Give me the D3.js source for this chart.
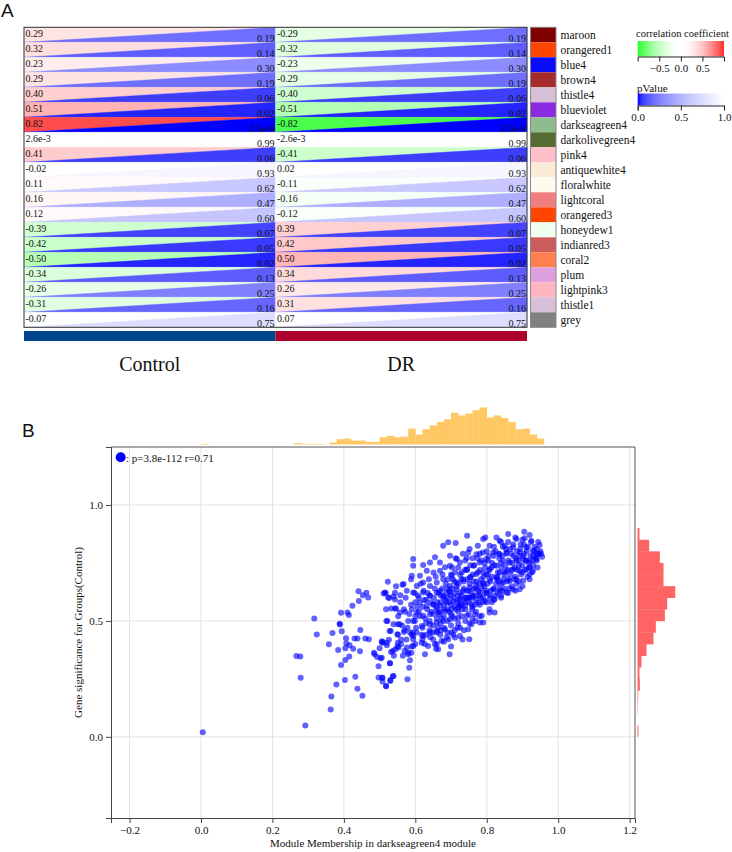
<!DOCTYPE html>
<html>
<head>
<meta charset="utf-8">
<script src="https://cdn.jsdelivr.net/npm/d3@7"></script>
<style>
  body { margin: 0; background: #fff; }
  svg text { font-family: "Liberation Serif", "Times New Roman", serif; fill: #111; }
</style>
</head>
<body>
<svg class="chart"></svg>
<script>

// ---- panel A data ----
let modules = ["maroon", "orangered1", "blue4", "brown4", "thistle4", "blueviolet",
  "darkseagreen4", "darkolivegreen4", "pink4", "antiquewhite4", "floralwhite", "lightcoral",
  "orangered3", "honeydew1", "indianred3", "coral2", "plum", "lightpink3", "thistle1", "grey"]

// colours as the picture shows them
let moduleColors = ["#800000", "#ff4500", "#0a0aff", "#a52a2a", "#d8bfd8", "#8a2be2",
  "#8fbc8f", "#556b2f", "#ffc0cb", "#faebd7", "#fffaf0", "#f08080",
  "#ff4500", "#f0fff0", "#cd5c5c", "#ff7f50", "#dda0dd", "#ffb6c1", "#d8bfd8", "#808080"]

let groups = ["Control", "DR"]
let groupColors = ["#00468b", "#ad002a"]

let controlCor = [0.29, 0.32, 0.23, 0.29, 0.40, 0.51, 0.82, 0.0026, 0.41, -0.02,
  0.11, 0.16, 0.12, -0.39, -0.42, -0.50, -0.34, -0.26, -0.31, -0.07]
let drCor = [-0.29, -0.32, -0.23, -0.29, -0.40, -0.51, -0.82, -0.0026, -0.41, 0.02,
  -0.11, -0.16, -0.12, 0.39, 0.42, 0.50, 0.34, 0.26, 0.31, 0.07]
let pValues = [0.19, 0.14, 0.30, 0.19, 0.06, 0.02, 2.5e-6, 0.99, 0.06, 0.93,
  0.62, 0.47, 0.60, 0.07, 0.05, 0.02, 0.13, 0.25, 0.16, 0.75]

let corTicks = [-0.5, 0, 0.5]
let pTicks = [0, 0.5, 1]

// ---- panel B data ----
let mmTicks = [-0.2, 0, 0.2, 0.4, 0.6, 0.8, 1.0, 1.2]
let gsTicks = [0, 0.5, 1.0]

// top histogram, bins of 0.02 (lower edges)
let mmBinLow = [0.00, 0.26, 0.28, 0.30, 0.32, 0.36, 0.38, 0.40, 0.42, 0.44, 0.46, 0.48, 0.50,
  0.52, 0.54, 0.56, 0.58, 0.60, 0.62, 0.64, 0.66, 0.68, 0.70, 0.72, 0.74, 0.76, 0.78,
  0.80, 0.82, 0.84, 0.86, 0.88, 0.90, 0.92, 0.94]
let mmCounts = [1, 2, 1, 1, 1, 3, 8, 9, 6, 6, 4, 4, 11,
  13, 11, 12, 24, 15, 23, 29, 34, 38, 48, 44, 47, 52, 56,
  41, 44, 40, 34, 23, 24, 15, 9]

// right histogram, bins of 0.05 (lower edges)
let gsBinLow = [0.00, 0.10, 0.15, 0.20, 0.25, 0.30, 0.35, 0.40, 0.45, 0.50, 0.55, 0.60,
  0.65, 0.70, 0.75, 0.80, 0.85]
let gsCounts = [3, 1, 2, 7, 6, 12, 27, 48, 55, 82, 89, 113, 78, 78, 67, 35, 6]

// genes: [module membership, gene significance]
let genes = [
  [0.005,0.02],[0.292,0.049],[0.363,0.118],[0.365,0.174],[0.379,0.226],[0.279,0.255],[0.267,0.349],
  [0.278,0.347],[0.317,0.51],[0.324,0.441],[0.358,0.399],[0.368,0.448],[0.384,0.375],[0.388,0.488],
  [0.389,0.484],[0.392,0.31],[0.392,0.535],[0.394,0.455],[0.403,0.245],[0.404,0.331],[0.404,0.382],
  [0.406,0.425],[0.407,0.403],[0.41,0.536],[0.414,0.526],[0.415,0.347],[0.416,0.395],[0.424,0.565],
  [0.426,0.38],[0.43,0.424],[0.432,0.259],[0.438,0.424],[0.438,0.207],[0.441,0.628],[0.442,0.586],
  [0.445,0.369],[0.446,0.461],[0.452,0.177],[0.453,0.611],[0.46,0.424],[0.463,0.621],[0.468,0.601],
  [0.47,0.421],[0.484,0.363],[0.486,0.356],[0.493,0.344],[0.497,0.304],[0.497,0.256],[0.5,0.382],
  [0.503,0.339],[0.506,0.412],[0.507,0.406],[0.508,0.255],[0.508,0.239],[0.515,0.622],[0.517,0.62],
  [0.519,0.5],[0.518,0.218],[0.52,0.395],[0.523,0.669],[0.524,0.601],[0.526,0.419],[0.528,0.457],
  [0.529,0.317],[0.53,0.245],[0.532,0.553],[0.532,0.366],[0.537,0.261],[0.543,0.621],[0.543,0.592],
  [0.544,0.378],[0.546,0.553],[0.551,0.406],[0.551,0.486],[0.551,0.44],
  [0.511,0.618],[0.527,0.599],[0.546,0.65],[0.564,0.656],[0.539,0.605],[0.558,0.611],[0.576,0.63],
  [0.594,0.622],[0.518,0.55],[0.543,0.553],[0.557,0.536],[0.571,0.539],[0.59,0.55],[0.522,0.5],
  [0.539,0.486],[0.556,0.486],[0.531,0.457],[0.55,0.442],[0.568,0.452],[0.594,0.5],[0.509,0.409],
  [0.52,0.406],[0.537,0.37],[0.553,0.385],[0.576,0.385],[0.594,0.421],[0.58,0.356],[0.589,0.363],
  [0.506,0.341],[0.529,0.317],[0.583,0.298],[0.507,0.255],[0.518,0.219],[0.539,0.262],[0.578,0.248],
  [0.53,0.241],[0.594,0.435],[0.585,0.45],
  [0.594,0.738],[0.59,0.695],[0.594,0.767],[0.622,0.741],[0.641,0.752],[0.655,0.774],[0.669,0.752],
  [0.678,0.824],[0.692,0.839],[0.713,0.836],[0.745,0.867],[0.752,0.81],[0.775,0.824],[0.79,0.853],
  [0.796,0.86],[0.808,0.824],[0.697,0.781],[0.697,0.738],[0.716,0.767],[0.725,0.752],[0.613,0.695],
  [0.632,0.716],[0.651,0.709],[0.669,0.716],[0.683,0.731],[0.702,0.695],[0.73,0.709],[0.744,0.723],
  [0.763,0.738],[0.78,0.752],[0.799,0.767],[0.744,0.772],[0.771,0.788],[0.789,0.795],[0.748,0.795],
  [0.588,0.68],[0.567,0.659],[0.604,0.651],[0.622,0.666],[0.641,0.651],[0.66,0.666],[0.678,0.68],
  [0.697,0.651],[0.716,0.666],[0.734,0.68],[0.753,0.687],[0.771,0.702],[0.79,0.709],[0.808,0.723],
  [0.827,0.738],[0.622,0.622],[0.641,0.608],[0.66,0.622],[0.678,0.608],[0.697,0.622],[0.716,0.637],
  [0.734,0.63],[0.753,0.644],[0.771,0.651],[0.79,0.666],[0.808,0.68],[0.827,0.687],[0.613,0.579],
  [0.632,0.565],[0.651,0.572],[0.669,0.565],[0.688,0.579],[0.706,0.586],[0.725,0.594],[0.744,0.601],
  [0.762,0.608],[0.781,0.622],[0.799,0.63],[0.818,0.637],[0.604,0.536],[0.622,0.522],[0.641,0.529],
  [0.664,0.536],[0.683,0.543],[0.701,0.55],[0.72,0.558],[0.739,0.565],[0.757,0.572],[0.776,0.579],
  [0.795,0.586],[0.808,0.55],[0.822,0.536],[0.599,0.5],[0.618,0.478],[0.641,0.486],[0.66,0.493],
  [0.678,0.5],[0.697,0.507],[0.72,0.514],[0.744,0.522],[0.767,0.529],[0.786,0.522],[0.79,0.493],
  [0.604,0.45],[0.622,0.435],[0.641,0.45],[0.66,0.457],[0.683,0.464],[0.701,0.45],[0.725,0.471],
  [0.748,0.464],[0.757,0.486],[0.618,0.406],[0.636,0.392],[0.655,0.399],[0.674,0.414],[0.692,0.421],
  [0.711,0.428],[0.725,0.435],[0.751,0.421],[0.594,0.392],[0.627,0.356],[0.696,0.356],[0.664,0.378],
  [0.58,0.363],
  [0.827,0.86],[0.836,0.846],[0.86,0.875],[0.85,0.824],[0.883,0.853],[0.905,0.885],[0.906,0.856],
  [0.925,0.846],[0.948,0.827],[0.955,0.777],[0.943,0.788],[0.929,0.803],[0.911,0.817],[0.892,0.795],
  [0.874,0.817],[0.855,0.795],[0.836,0.788],[0.818,0.795],[0.939,0.767],[0.92,0.759],[0.902,0.767],
  [0.883,0.759],[0.864,0.752],[0.846,0.759],[0.929,0.716],[0.911,0.723],[0.892,0.716],[0.874,0.723],
  [0.855,0.716],[0.836,0.709],[0.92,0.68],[0.902,0.673],[0.883,0.68],[0.864,0.673],[0.846,0.666],
  [0.874,0.637],[0.855,0.622],[0.836,0.63],[0.822,0.594],[0.892,0.637],[0.84,0.608],[0.808,0.536],
  [0.781,0.493],[0.725,0.565],
  [0.66,0.56],[0.67,0.58],[0.68,0.55],[0.69,0.6],[0.7,0.57],[0.71,0.62],[0.72,0.59],[0.73,0.61],
  [0.74,0.58],[0.75,0.63],[0.76,0.6],[0.77,0.64],[0.78,0.61],[0.79,0.66],[0.8,0.62],[0.81,0.67],
  [0.82,0.64],[0.83,0.69],[0.84,0.66],[0.85,0.7],[0.86,0.68],[0.87,0.72],[0.88,0.69],[0.89,0.74],
  [0.9,0.71],[0.91,0.76],[0.92,0.73],[0.93,0.78],
  [0.665,0.62],[0.675,0.64],[0.685,0.66],[0.695,0.63],[0.705,0.68],[0.715,0.65],[0.725,0.7],
  [0.735,0.67],[0.745,0.72],[0.755,0.69],[0.765,0.74],[0.775,0.71],[0.785,0.76],[0.795,0.73],
  [0.805,0.78],[0.815,0.75],[0.825,0.8],[0.835,0.77],[0.845,0.82],[0.855,0.79],[0.865,0.81],
  [0.875,0.78],[0.885,0.8],[0.895,0.83],[0.905,0.79],[0.915,0.82],
  [0.64,0.5],[0.65,0.53],[0.66,0.51],[0.67,0.54],[0.68,0.52],[0.69,0.55],[0.7,0.53],[0.71,0.56],
  [0.72,0.54],[0.73,0.57],[0.74,0.55],[0.75,0.58],[0.76,0.56],[0.77,0.59],[0.78,0.57],[0.79,0.6],
  [0.8,0.58],[0.81,0.61],[0.82,0.59],[0.83,0.62],[0.84,0.6],[0.85,0.64],[0.86,0.62],[0.87,0.65],
  [0.88,0.63],[0.89,0.67],[0.9,0.65],
  [0.62,0.47],[0.63,0.49],[0.64,0.46],[0.65,0.48],[0.66,0.45],[0.67,0.49],[0.68,0.47],[0.69,0.5],
  [0.7,0.48],[0.71,0.51],[0.72,0.49],[0.73,0.52],[0.74,0.5],[0.75,0.53],[0.76,0.51],[0.77,0.54],
  [0.78,0.52],
  [0.7,0.7],[0.72,0.73],[0.74,0.76],[0.76,0.77],[0.78,0.79],[0.8,0.8],[0.82,0.82],[0.84,0.84],
  [0.86,0.84],[0.88,0.86],[0.9,0.85],[0.92,0.87],[0.94,0.81],[0.95,0.8],[0.93,0.74],[0.94,0.76],
  [0.92,0.7],
  [0.6,0.58],[0.61,0.6],[0.62,0.56],[0.63,0.59],[0.64,0.61],[0.65,0.57],[0.6,0.52],[0.61,0.54],
  [0.58,0.5],[0.57,0.46],[0.59,0.44],[0.56,0.42],[0.55,0.39],[0.57,0.37],[0.54,0.35],[0.62,0.42],
  [0.6,0.4],[0.63,0.44],[0.65,0.42],[0.67,0.44],[0.69,0.45],[0.71,0.46],[0.66,0.4],[0.68,0.41],
  [0.602,0.47],[0.607,0.61],[0.613,0.52],[0.618,0.44],[0.623,0.63],[0.628,0.51],[0.633,0.55],
  [0.638,0.68],[0.643,0.58],[0.648,0.45],[0.605,0.56],[0.615,0.66],[0.625,0.59],[0.635,0.62],
  [0.645,0.54],
  [0.652,0.6],[0.657,0.69],[0.661,0.58],[0.666,0.53],[0.671,0.61],[0.676,0.7],[0.681,0.57],
  [0.686,0.62],[0.691,0.68],[0.696,0.58],[0.654,0.64],[0.664,0.47],[0.674,0.51],[0.684,0.59],
  [0.694,0.54],[0.659,0.55],[0.669,0.63],[0.679,0.6],[0.689,0.64],[0.699,0.61],
  [0.702,0.64],[0.707,0.6],[0.711,0.71],[0.716,0.58],[0.721,0.66],[0.726,0.62],[0.731,0.55],
  [0.736,0.64],[0.741,0.6],[0.746,0.68],[0.704,0.52],[0.714,0.55],[0.724,0.57],[0.734,0.59],
  [0.744,0.63],[0.709,0.67],[0.719,0.61],[0.729,0.68],[0.739,0.72],[0.749,0.6],[0.703,0.73],
  [0.713,0.77],[0.733,0.79],
  [0.752,0.66],[0.757,0.62],[0.761,0.7],[0.766,0.57],[0.771,0.67],[0.776,0.63],[0.781,0.72],
  [0.786,0.64],[0.791,0.69],[0.796,0.62],[0.754,0.74],[0.764,0.64],[0.774,0.77],[0.784,0.68],
  [0.794,0.75],[0.759,0.55],[0.769,0.61],[0.779,0.66],[0.789,0.58],[0.799,0.7],[0.753,0.6],
  [0.763,0.67],[0.783,0.6],[0.793,0.65],
  [0.802,0.66],[0.807,0.72],[0.811,0.63],[0.816,0.69],[0.821,0.74],[0.826,0.66],[0.831,0.71],
  [0.836,0.64],[0.841,0.73],[0.846,0.68],[0.804,0.76],[0.814,0.58],[0.824,0.61],[0.834,0.79],
  [0.844,0.63],[0.809,0.6],[0.819,0.78],[0.829,0.68],[0.839,0.75],[0.849,0.71],[0.803,0.7],
  [0.813,0.73],[0.833,0.67],[0.843,0.78],
  [0.852,0.74],[0.857,0.67],[0.861,0.76],[0.866,0.7],[0.871,0.75],[0.876,0.68],[0.881,0.77],
  [0.886,0.72],[0.891,0.78],[0.896,0.7],[0.854,0.81],[0.864,0.64],[0.874,0.83],[0.884,0.66],
  [0.894,0.81],[0.859,0.72],[0.869,0.79],[0.879,0.73],[0.889,0.76],[0.899,0.74],
  [0.902,0.78],[0.907,0.72],[0.912,0.8],[0.917,0.75],[0.922,0.78],[0.927,0.71],[0.932,0.8],
  [0.937,0.77],[0.942,0.73],[0.947,0.79],[0.904,0.83],[0.914,0.69],[0.924,0.84],[0.934,0.82],
  [0.944,0.84],[0.952,0.79],[0.909,0.76],[0.919,0.73],[0.929,0.76],[0.939,0.79],
  [0.552,0.52],[0.558,0.58],[0.563,0.48],[0.568,0.55],[0.573,0.6],[0.578,0.47],[0.583,0.53],
  [0.588,0.57],[0.593,0.45],[0.598,0.62],[0.56,0.4],[0.575,0.42],[0.59,0.39],[0.565,0.35],
  [0.585,0.33],
  [0.626,0.4],[0.642,0.43],[0.658,0.38],[0.672,0.46],[0.688,0.43],[0.706,0.44],[0.718,0.47],
  [0.736,0.46],[0.752,0.49],[0.768,0.5],[0.732,0.42],[0.7,0.39]
]

let statText = ": p=3.8e-112 r=0.71"

let svg = d3.select(".chart")
    .attr("width", 732)
    .attr("height", 852)

function fmt(v) {
  if (v !== 0 && Math.abs(v) < 0.005) return v.toExponential(1)
  return v.toFixed(2)
}

// ================= panel A =================
svg.append("text")
    .attr("x", 1).attr("y", 17)
    .style("font-family", "Liberation Sans, Arial, sans-serif")
    .style("font-size", "19px")
    .text("A")

let gx = d3.scaleBand().domain(groups).range([24, 527])
let gy = d3.scaleBand().domain(modules).range([27.3, 327.3])

let corColor = d3.scaleDivergingPow()
    .exponent(1.8)
    .domain([-1, 0, 1])
    .interpolator(function(t) {
      return t < 0.5 ? d3.interpolateRgb("#00ff00", "#ffffff")(t * 2)
                     : d3.interpolateRgb("#ffffff", "#ff0000")((t - 0.5) * 2)
    })

let pColor = d3.scaleSqrt().domain([0, 1]).range(["#0000ff", "#ffffff"])

let cells = []
modules.forEach(function(m, i) {
  cells.push({ module: m, group: "Control", r: controlCor[i], p: pValues[i] })
  cells.push({ module: m, group: "DR", r: drCor[i], p: pValues[i] })
})

let cell = svg.append("g").selectAll("g")
    .data(cells)
  .enter().append("g")

// upper-left triangle: correlation, lower-right: p value
cell.append("path")
    .attr("d", function(d) {
      let x0 = gx(d.group), x1 = x0 + gx.bandwidth()
      let y0 = gy(d.module), y1 = y0 + gy.bandwidth()
      return "M" + x0 + "," + y0 + "L" + x1 + "," + y0 + "L" + x0 + "," + y1 + "Z"
    })
    .attr("fill", function(d) { return corColor(d.r) })
    .attr("stroke", function(d) { return corColor(d.r) })
    .attr("stroke-width", 0.4)

cell.append("path")
    .attr("d", function(d) {
      let x0 = gx(d.group), x1 = x0 + gx.bandwidth()
      let y0 = gy(d.module), y1 = y0 + gy.bandwidth()
      return "M" + x0 + "," + y1 + "L" + x1 + "," + y0 + "L" + x1 + "," + y1 + "Z"
    })
    .attr("fill", function(d) { return pColor(d.p) })
    .attr("stroke", function(d) { return pColor(d.p) })
    .attr("stroke-width", 0.4)

cell.append("text")
    .attr("x", function(d) { return gx(d.group) + 1.5 })
    .attr("y", function(d) { return gy(d.module) + 9.5 })
    .style("font-size", "10px")
    .text(function(d) { return fmt(d.r) })

cell.append("text")
    .attr("x", function(d) { return gx(d.group) + gx.bandwidth() - 1 })
    .attr("y", function(d) { return gy(d.module) + gy.bandwidth() - 0.5 })
    .attr("text-anchor", "end")
    .style("font-size", "10px")
    .text(function(d) { return fmt(d.p) })

svg.append("rect")
    .attr("x", 24).attr("y", 27.3)
    .attr("width", 503).attr("height", 300)
    .attr("fill", "none")
    .attr("stroke", "#333")

// module colour column
let modG = svg.append("g")
modG.selectAll("rect")
    .data(modules)
  .enter().append("rect")
    .attr("x", 530.5)
    .attr("y", function(d) { return gy(d) })
    .attr("width", 25.5)
    .attr("height", gy.bandwidth())
    .attr("fill", function(d, i) { return moduleColors[i] })

modG.append("rect")
    .attr("x", 530.5).attr("y", 27.3)
    .attr("width", 25.5).attr("height", 300)
    .attr("fill", "none")
    .attr("stroke", "#888")

modG.selectAll("text")
    .data(modules)
  .enter().append("text")
    .attr("x", 560.5)
    .attr("y", function(d) { return gy(d) + gy.bandwidth() / 2 + 4 })
    .style("font-size", "11.5px")
    .text(function(d) { return d })

// group bar + labels
svg.append("g").selectAll("rect")
    .data(groups)
  .enter().append("rect")
    .attr("x", function(d) { return gx(d) })
    .attr("y", 331)
    .attr("width", gx.bandwidth())
    .attr("height", 10)
    .attr("fill", function(d, i) { return groupColors[i] })

svg.append("g").selectAll("text")
    .data(groups)
  .enter().append("text")
    .attr("x", function(d) { return gx(d) + gx.bandwidth() / 2 })
    .attr("y", 371)
    .attr("text-anchor", "middle")
    .style("font-size", "20px")
    .text(function(d) { return d })

// colour legends
let legX = d3.scaleLinear().domain([-1, 1]).range([637.7, 724])
let legP = d3.scaleLinear().domain([0, 1]).range([637.7, 724])

let defs = svg.append("defs")
let gradCor = defs.append("linearGradient").attr("id", "gradCor")
gradCor.selectAll("stop")
    .data(d3.range(0, 1.0001, 0.05))
  .enter().append("stop")
    .attr("offset", function(t) { return t })
    .attr("stop-color", function(t) { return corColor(-0.9 + t * 1.8) })

let gradP = defs.append("linearGradient").attr("id", "gradP")
gradP.selectAll("stop")
    .data(d3.range(0, 1.0001, 0.05))
  .enter().append("stop")
    .attr("offset", function(t) { return t })
    .attr("stop-color", function(t) { return pColor(t) })

svg.append("text")
    .attr("x", 636).attr("y", 37)
    .style("font-size", "10.5px")
    .text("correlation coefficient")

svg.append("rect")
    .attr("x", 637.7).attr("y", 41)
    .attr("width", 86.3).attr("height", 15.5)
    .attr("fill", "url(#gradCor)")

svg.append("g")
    .attr("transform", "translate(0,56.5)")
    .call(d3.axisBottom(legX).tickValues(corTicks).tickSize(5).tickFormat(d3.format(".1f")))
    .call(function(g) {
      g.selectAll("text").style("font-size", "11px").style("font-family", "Liberation Serif")
      g.selectAll("line, path").attr("stroke", "#222")
    })

svg.append("text")
    .attr("x", 637).attr("y", 91.5)
    .style("font-size", "11px")
    .text("pValue")

svg.append("rect")
    .attr("x", 637.7).attr("y", 93.5)
    .attr("width", 86.3).attr("height", 12)
    .attr("fill", "url(#gradP)")

svg.append("g")
    .attr("transform", "translate(0,105.5)")
    .call(d3.axisBottom(legP).tickValues(pTicks).tickSize(5).tickFormat(d3.format(".1f")))
    .call(function(g) {
      g.selectAll("text").style("font-size", "11px").style("font-family", "Liberation Serif")
      g.selectAll("line, path").attr("stroke", "#222")
    })

// ================= panel B =================
svg.append("text")
    .attr("x", 22).attr("y", 437)
    .style("font-family", "Liberation Sans, Arial, sans-serif")
    .style("font-size", "19px")
    .text("B")

let plot = { left: 111, right: 635, top: 447, bottom: 818 }

let x = d3.scaleLinear().domain([-0.252, 1.215]).range([plot.left, plot.right])
let y = d3.scaleLinear().domain([-0.35, 1.25]).range([plot.bottom, plot.top])

// grid
svg.append("g").selectAll("line")
    .data(mmTicks)
  .enter().append("line")
    .attr("x1", function(d) { return x(d) }).attr("x2", function(d) { return x(d) })
    .attr("y1", plot.top).attr("y2", plot.bottom)
    .attr("stroke", "#e3e3e3")

svg.append("g").selectAll("line")
    .data(gsTicks)
  .enter().append("line")
    .attr("x1", plot.left).attr("x2", plot.right)
    .attr("y1", function(d) { return y(d) }).attr("y2", function(d) { return y(d) })
    .attr("stroke", "#e3e3e3")

// box top + right
svg.append("path")
    .attr("d", "M" + plot.left + "," + plot.top + "H" + plot.right + "V" + plot.bottom)
    .attr("fill", "none")
    .attr("stroke", "#555")

// marginal histograms
let hTop = d3.scaleLinear().domain([0, d3.max(mmCounts)]).range([0, 37])
svg.append("g").selectAll("rect")
    .data(mmBinLow)
  .enter().append("rect")
    .attr("x", function(d) { return x(d) })
    .attr("width", function(d) { return x(d + 0.02) - x(d) + 0.3 })
    .attr("y", function(d, i) { return 444.5 - hTop(mmCounts[i]) })
    .attr("height", function(d, i) { return hTop(mmCounts[i]) })
    .attr("fill", "#ffc864")

let hRight = d3.scaleLinear().domain([0, d3.max(gsCounts)]).range([0, 37.7])
svg.append("g").selectAll("rect")
    .data(gsBinLow)
  .enter().append("rect")
    .attr("x", 637.5)
    .attr("y", function(d) { return y(d + 0.05) })
    .attr("height", function(d) { return y(d) - y(d + 0.05) + 0.3 })
    .attr("width", function(d, i) { return hRight(gsCounts[i]) })
    .attr("fill", "#ff6464")

// points
svg.append("g").selectAll("circle")
    .data(genes)
  .enter().append("circle")
    .attr("cx", function(d) { return x(d[0]) })
    .attr("cy", function(d) { return y(d[1]) })
    .attr("r", 3)
    .attr("fill", "#0000ff")
    .attr("fill-opacity", 0.62)

// axes
svg.append("g")
    .attr("transform", "translate(0," + plot.bottom + ")")
    .call(d3.axisBottom(x).tickValues(mmTicks).tickSize(5).tickFormat(d3.format(".1f")))
    .call(function(g) {
      g.selectAll("text").style("font-size", "11px").style("font-family", "Liberation Serif").attr("fill", "#333")
      g.selectAll("line, path").attr("stroke", "#444")
    })

svg.append("g")
    .attr("transform", "translate(" + plot.left + ",0)")
    .call(d3.axisLeft(y).tickValues(gsTicks).tickSize(5).tickFormat(d3.format(".1f")))
    .call(function(g) {
      g.selectAll("text").style("font-size", "11px").style("font-family", "Liberation Serif").attr("fill", "#333")
      g.selectAll("line, path").attr("stroke", "#444")
    })

svg.append("text")
    .attr("x", (plot.left + plot.right) / 2)
    .attr("y", 847)
    .attr("text-anchor", "middle")
    .style("font-size", "11px")
    .text("Module Membership in darkseagreen4 module")

svg.append("text")
    .attr("transform", "translate(82," + (plot.top + plot.bottom) / 2 + ") rotate(-90)")
    .attr("text-anchor", "middle")
    .style("font-size", "11px")
    .text("Gene significance for Groups(Control)")

// legend
svg.append("circle")
    .attr("cx", 120.7).attr("cy", 457.3).attr("r", 5)
    .attr("fill", "#0000ff")

svg.append("text")
    .attr("x", 126).attr("y", 461.5)
    .style("font-size", "11px")
    .text(statText)

</script>
</body>
</html>
